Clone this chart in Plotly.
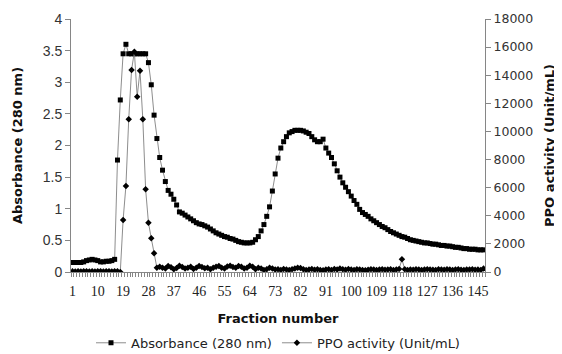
import plotly.graph_objects as go

fractions = list(range(1, 148))

absorbance = [
    0.15, 0.15, 0.15, 0.15, 0.16, 0.18, 0.19, 0.20, 0.19, 0.18,
    0.16, 0.16, 0.17, 0.17, 0.18, 0.20, 1.77, 2.72, 3.45, 3.60,
    3.45, 3.45, 3.45, 3.45, 3.45, 3.45, 3.45, 3.31, 2.96, 2.48,
    2.11, 1.81, 1.61, 1.43, 1.29, 1.23, 1.15, 1.06, 0.95, 0.93,
    0.90, 0.87, 0.84, 0.81, 0.78, 0.76, 0.75, 0.73, 0.71, 0.68,
    0.65, 0.62, 0.60, 0.58, 0.56, 0.55, 0.53, 0.52, 0.50, 0.48,
    0.47, 0.46, 0.46, 0.46, 0.47, 0.51, 0.56, 0.65, 0.75, 0.88,
    1.03, 1.28, 1.55, 1.80, 1.96, 2.06, 2.14, 2.20, 2.22, 2.24,
    2.24, 2.24, 2.23, 2.21, 2.19, 2.14, 2.09, 2.06, 2.06, 2.10,
    1.96, 1.88, 1.81, 1.71, 1.60, 1.50, 1.41, 1.34, 1.27, 1.20,
    1.13, 1.07, 0.99, 0.94, 0.91, 0.88, 0.84, 0.81, 0.78, 0.75,
    0.72, 0.70, 0.67, 0.64, 0.62, 0.60, 0.58, 0.56, 0.55, 0.53,
    0.51, 0.50, 0.49, 0.48, 0.47, 0.46, 0.46, 0.45, 0.44, 0.44,
    0.43, 0.42, 0.42, 0.41, 0.41, 0.40, 0.39, 0.39, 0.38, 0.37,
    0.37, 0.36, 0.36, 0.36, 0.35, 0.35, 0.35,
]

ppo_activity = [
    50, 40, 60, 30, 50, 60, 40, 50, 30, 60,
    50, 40, 60, 50, 30, 50, 60, 0, 3700, 6120,
    10860, 14370, 15670, 12470, 14320, 10860, 5880, 3510, 2400, 1330,
    300, 380, 300, 250, 420, 330, 200, 280, 450, 350,
    250, 300, 380, 220, 300, 420, 350, 260, 310, 200,
    300, 380, 420, 300, 250, 400, 450, 350, 300, 420,
    380, 250, 300, 450, 380, 200, 300, 250, 150, 200,
    300, 250, 180, 200, 150, 220, 180, 150, 200, 250,
    300, 280, 200, 150, 180, 220, 160, 200, 150, 120,
    180, 200, 150, 220, 180, 250, 200, 160, 220, 180,
    150, 200, 180, 150, 120, 160, 200, 180, 150, 170,
    200, 160, 180, 200, 150, 180, 220, 900, 200, 150,
    180, 160, 200, 180, 150, 170, 200, 180, 160, 150,
    200, 180, 160, 200, 170, 150, 180, 200, 160, 150,
    180, 170, 200, 160, 180, 150, 250,
]

x_tick_values = [1, 10, 19, 28, 37, 46, 55, 64, 73, 82, 91, 100, 109, 118, 127, 136, 145]
x_tick_labels = ["1", "10", "19", "28", "37", "46", "55", "64", "73", "82",
                 "91", "100", "109", "118", "127", "136", "145"]
abs_ticks = [0, 0.5, 1, 1.5, 2, 2.5, 3, 3.5, 4]
ppo_ticks = [0, 2000, 4000, 6000, 8000, 10000, 12000, 14000, 16000, 18000]

AX = "#868686"
LINE = "#707070"
SANS = "DejaVu Sans, Arial, sans-serif"

fig = go.Figure()
fig.add_trace(go.Scatter(
    x=fractions, y=absorbance, name="Absorbance (280 nm)",
    mode="lines+markers",
    line=dict(color=LINE, width=0.8),
    marker=dict(symbol="square", size=5, color="black"),
    yaxis="y",
))
fig.add_trace(go.Scatter(
    x=fractions, y=ppo_activity, name="PPO activity (Unit/mL)",
    mode="lines+markers",
    line=dict(color=LINE, width=0.8),
    marker=dict(symbol="diamond", size=5, color="black"),
    yaxis="y2",
))

# the page puts the figure 8 px in from the top-left corner
fig.update_layout(
    width=554, height=346,
    margin=dict(l=63, r=77, t=11, b=82, autoexpand=False),
    paper_bgcolor="white", plot_bgcolor="white",
    showlegend=True,
    legend=dict(orientation="h", x=0.5, xanchor="center", y=-0.28, yanchor="middle",
                font=dict(family=SANS, size=13, color="#222"),
                itemwidth=30, tracegroupgap=0, bgcolor="rgba(0,0,0,0)"),
    xaxis=dict(
        range=[0.5, 147.5], tickmode="array", tickvals=x_tick_values, ticktext=x_tick_labels,
        ticks="outside", ticklen=0, tickcolor=AX, automargin=False,
        minor=dict(tickmode="linear", tick0=0.5, dtick=1, ticks="outside", ticklen=4,
                   tickcolor=AX, tickwidth=1, showgrid=False),
        showline=True, linecolor=AX, linewidth=1, showgrid=False, zeroline=False,
        tickfont=dict(family="Liberation Serif, Times New Roman, serif", size=14, color="#222"),
        ticklabelstandoff=6,
        title=dict(text="<b>Fraction number</b>", standoff=16,
                   font=dict(family=SANS, size=13, color="#111")),
    ),
    yaxis=dict(
        range=[0, 4], tickmode="array", tickvals=abs_ticks, automargin=False,
        ticks="outside", ticklen=5, tickcolor=AX,
        showline=True, linecolor=AX, linewidth=1, showgrid=False, zeroline=False,
        tickfont=dict(family="Liberation Sans, Arial, sans-serif", size=14, color="#333"),
        title=dict(text="<b>Absorbance (280 nm)</b>", standoff=17,
                   font=dict(family=SANS, size=13, color="#111")),
    ),
    yaxis2=dict(
        range=[0, 18000], tickmode="array", tickvals=ppo_ticks, tickformat="d",
        overlaying="y", side="right", anchor="x", automargin=False,
        ticks="outside", ticklen=5, tickcolor=AX,
        showline=True, linecolor=AX, linewidth=1, showgrid=False, zeroline=False,
        tickfont=dict(family=SANS, size=12.5, color="#333"),
        title=dict(text="<b>PPO activity (Unit/mL)</b>", standoff=12,
                   font=dict(family=SANS, size=13, color="#111")),
    ),
)

fig.write_html("out.html")
